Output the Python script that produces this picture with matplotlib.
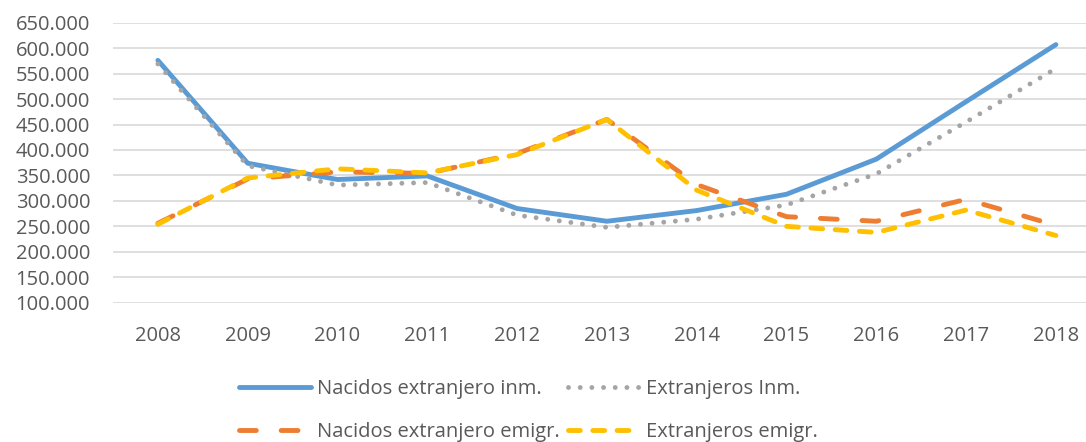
import matplotlib
matplotlib.use('Agg')
import matplotlib.pyplot as plt
from matplotlib.ticker import FuncFormatter

# datos (personas)
years = ['2008', '2009', '2010', '2011', '2012', '2013', '2014', '2015', '2016', '2017', '2018']
nacidos_inm = [576000, 374000, 342000, 349000, 285000, 260000, 281000, 313000, 382000, 495000, 607000]
extranjeros_inm = [569000, 369000, 331000, 336000, 272000, 248000, 264000, 292000, 353000, 455000, 560000]
nacidos_emig = [256000, 343000, 357000, 354000, 393000, 460000, 332000, 269000, 260000, 303000, 252000]
extranjeros_emig = [254000, 345000, 363000, 355000, 391000, 460000, 321000, 250000, 238000, 282000, 232000]

plt.rcParams['font.family'] = ['Open Sans', 'DejaVu Sans']
plt.rcParams['lines.scale_dashes'] = False

fig = plt.figure(figsize=(10.86, 4.42), dpi=100)
ax = fig.add_axes([113 / 1086, 139.3 / 442, 987.8 / 1086, 280 / 442])

x = list(range(len(years)))
lw = 3.5
l1, = ax.plot(x, nacidos_inm, color='#5B9BD5', lw=lw, solid_capstyle='round',
              solid_joinstyle='round', label='Nacidos extranjero inm.', zorder=3)
l2, = ax.plot(x, extranjeros_inm, color='#A5A5A5', lw=lw, dashes=(0.01, 8.4),
              dash_capstyle='round', label='Extranjeros Inm.', zorder=4)
l3, = ax.plot(x, nacidos_emig, color='#ED7D31', lw=lw, dashes=(12.1, 17.9),
              dash_capstyle='round', label='Nacidos extranjero emigr.', zorder=5)
l4, = ax.plot(x, extranjeros_emig, color='#FFC000', lw=lw, dashes=(8.5, 9.0),
              dash_capstyle='round', label='Extranjeros emigr.', zorder=6)

ax.set_xlim(-0.5, 10.5)
ax.set_ylim(100000, 650000)
ax.set_yticks(range(100000, 650001, 50000))
ax.yaxis.set_major_formatter(FuncFormatter(lambda v, p: f'{v:,.0f}'.replace(',', '.')))
ax.set_xticks(x)
ax.set_xticklabels(years)
ax.grid(axis='y', color='#D9D9D9', lw=1.2, zorder=0)
ax.set_axisbelow(True)
for s in ax.spines.values():
    s.set_visible(False)
ax.tick_params(axis='both', length=0, labelsize=14.5, colors='#595959')
ax.tick_params(axis='y', pad=16.5)
ax.tick_params(axis='x', pad=17)

# orden por columnas para que las filas queden como en el original
handles = [l1, l3, l2, l4]
fig.legend(handles, [h.get_label() for h in handles],
           loc='center', bbox_to_anchor=(528.5 / 1086, 1 - 410.5 / 442),
           ncol=2, frameon=False, fontsize=14.5, handlelength=3.56,
           handletextpad=0.3, columnspacing=0.4, labelspacing=1.15,
           borderpad=0, labelcolor='#595959')

fig.savefig('out.png', dpi=100)
